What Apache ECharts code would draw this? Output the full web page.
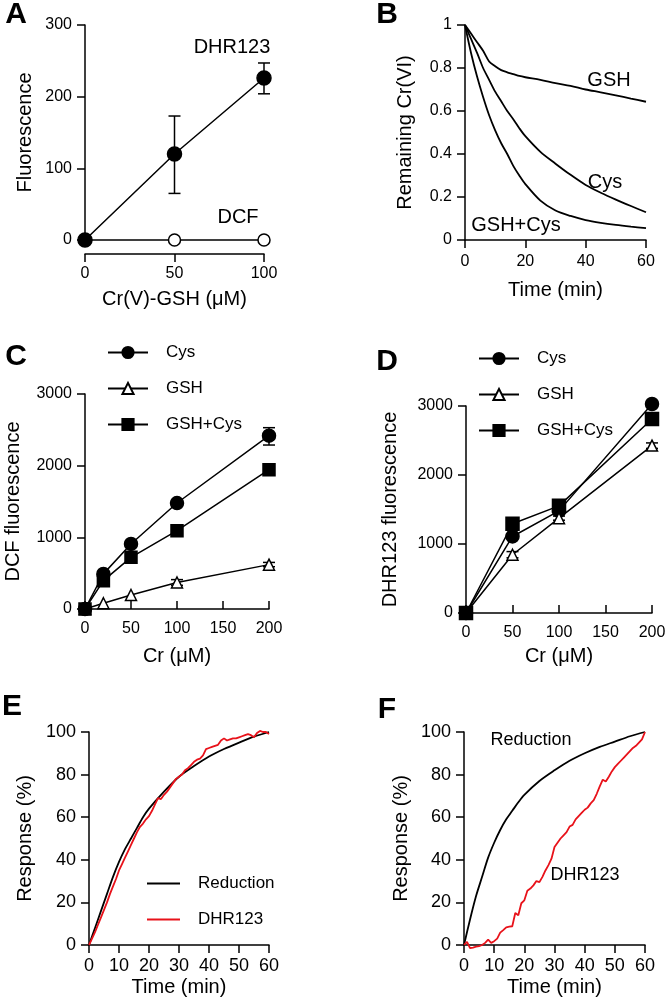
<!DOCTYPE html>
<html>
<head>
<meta charset="utf-8">
<title>Cr panels</title>
<script src="https://cdn.jsdelivr.net/npm/echarts@6/dist/echarts.min.js"></script>
<style>
  html, body { margin: 0; padding: 0; background: #fff; }
  #chart { width: 666px; height: 1008px; }
</style>
</head>
<body>
<div id="chart"></div>
<script>
var FONT = 'Liberation Sans, Arial, sans-serif';

// A: Cr(V)-GSH dose
var aDose = [0, 50, 100];
var aDHR = [0, 120, 226];
var aDHRLo = [0, 65, 204];
var aDHRHi = [0, 173, 247];
var aDCF = [0, 0, 0];

// B: remaining Cr(VI) vs time
var bTime = [0, 2, 4, 6, 8, 10, 12, 14, 16, 18, 20, 25, 30, 35, 40, 45, 50, 55, 60];
var bGSH = [1, 0.96, 0.92, 0.88, 0.83, 0.808, 0.79, 0.78, 0.772, 0.763, 0.757, 0.745, 0.73, 0.717, 0.70, 0.687, 0.673, 0.658, 0.643];
var bCys = [1, 0.935, 0.87, 0.8, 0.745, 0.69, 0.645, 0.6, 0.562, 0.52, 0.483, 0.41, 0.355, 0.303, 0.256, 0.22, 0.188, 0.158, 0.129];
var bBoth = [1, 0.87, 0.76, 0.665, 0.58, 0.51, 0.45, 0.4, 0.345, 0.3, 0.26, 0.183, 0.137, 0.112, 0.093, 0.08, 0.07, 0.062, 0.055];

// C: DCF fluorescence
var cDose = [0, 20, 50, 100, 200];
var cCys = [0, 490, 907, 1479, 2419];
var cGSH = [0, 80, 195, 370, 619];
var cBoth = [0, 395, 721, 1093, 1944];
var cErrDose = [200, 100, 200];
var cErrLo = [2288, 330, 590];
var cErrHi = [2530, 410, 650];

// D: DHR123 fluorescence
var dDose = [0, 50, 100, 200];
var dCys = [0, 1109, 1480, 3029];
var dGSH = [0, 844, 1375, 2426];
var dBoth = [0, 1293, 1553, 2812];
var dErrDose = [50, 100, 200];
var dErrLo = [800, 1345, 2385];
var dErrHi = [890, 1405, 2465];

// E / F: normalized response
var rTime = [0, 2, 4, 6, 8, 10, 12, 14, 16, 18, 20, 25, 30, 35, 40, 45, 50, 55, 60];
var eReduction = [0, 8, 16, 24, 32, 39, 45, 50, 55, 60, 64, 72, 79, 84, 88.5, 92, 95, 97.8, 100];
var fReduction = [0, 12, 23, 32, 41, 48, 54, 59, 63, 67, 70.5, 77, 82, 86.5, 90, 93, 95.5, 98, 100];
var mTime = [0, 1, 2, 3, 4, 5, 6, 7, 8, 9, 10, 11, 12, 13, 14, 15, 16, 17, 18, 19, 20,
  21, 22, 23, 24, 25, 26, 27, 28, 29, 30, 31, 32, 33, 34, 35, 36, 37, 38, 39, 40,
  41, 42, 43, 44, 45, 46, 47, 48, 49, 50, 51, 52, 53, 54, 55, 56, 57, 58, 59, 60];
var eDHR = [0, 3, 6, 9.5, 13, 16.5, 20, 24, 27.5, 31, 35, 38, 41, 44, 47, 50, 53, 55.5, 57, 59, 60.5,
  63, 66, 69, 68.5, 70.5, 72, 74, 76, 78, 79, 80, 82, 83, 84.5, 86, 87, 87.5, 89, 92, 92.5,
  93, 93.5, 94, 96, 97, 96, 96.5, 97, 97, 97.5, 98, 98.5, 99, 98.5, 97.5, 99.5, 100.5, 100, 100, 99];
var fDHR = [0, 1.5, -1.5, -1.2, -0.8, -0.5, 0, 1, 2.5, 1, 1.8, 3, 5.8, 7, 8.3, 8.6, 8.8, 15, 14, 19.6, 21,
  25.5, 26.5, 28, 30, 29.5, 32, 35, 37.5, 40.5, 46, 48, 50, 51.5, 53, 55.6, 56.4, 59, 60.5, 62, 63.5,
  64.5, 66.5, 68, 71, 74.5, 77.6, 76.8, 79, 81.5, 83.5, 85, 86.5, 88, 89.5, 91, 92.5, 93.5, 95, 96.5, 100];

var RED = '#e8121a';

function pairs(xs, ys) {
  return xs.map(function (x, i) { return [x, ys[i]]; });
}

function plain(v) {
  return String(v);
}

function makeX(idx, max, interval, name, gap, opts) {
  opts = opts || {};
  return {
    type: 'value', gridIndex: idx, min: 0, max: max, interval: interval,
    name: name, nameLocation: 'middle', nameGap: gap,
    nameTextStyle: { fontSize: 20, color: '#000', fontFamily: FONT },
    offset: opts.offset || 0,
    axisLine: { show: true, onZero: false, lineStyle: { color: '#000', width: 1.5 } },
    axisTick: { show: true, inside: !!opts.inside, length: 8, lineStyle: { color: '#000', width: 1.5 } },
    axisLabel: { fontSize: opts.font || 16, color: '#000', margin: opts.margin || 12, fontFamily: FONT, formatter: plain },
    splitLine: { show: false }
  };
}

function makeY(idx, max, interval, name, gap, font) {
  return {
    type: 'value', gridIndex: idx, min: 0, max: max, interval: interval,
    name: name, nameLocation: 'middle', nameGap: gap,
    nameTextStyle: { fontSize: 20, color: '#000', fontFamily: FONT },
    axisLine: { show: true, onZero: false, lineStyle: { color: '#000', width: 1.5 } },
    axisTick: { show: true, length: 8, lineStyle: { color: '#000', width: 1.5 } },
    axisLabel: { fontSize: font || 16, color: '#000', margin: 13, fontFamily: FONT, formatter: plain },
    splitLine: { show: false }
  };
}

function markerLine(idx, name, xs, ys, symbol, size, filled) {
  return {
    name: name, type: 'line', xAxisIndex: idx, yAxisIndex: idx,
    data: pairs(xs, ys), clip: false,
    symbol: symbol, symbolSize: size, showSymbol: true,
    lineStyle: { color: '#000', width: 1.5 },
    itemStyle: { color: filled ? '#000' : '#fff', borderColor: '#000', borderWidth: 1.5, opacity: 1 },
    z: 3
  };
}

function curve(idx, name, xs, ys, color, smooth) {
  return {
    name: name, type: 'line', xAxisIndex: idx, yAxisIndex: idx,
    data: pairs(xs, ys), clip: false, smooth: smooth,
    symbol: 'none', showSymbol: false,
    lineStyle: { color: color, width: 1.8 },
    itemStyle: { color: color },
    z: 3
  };
}

function errorBars(idx, xs, lo, hi) {
  return {
    type: 'custom', xAxisIndex: idx, yAxisIndex: idx, z: 2,
    data: xs.map(function (x, i) { return [x, lo[i], hi[i]]; }),
    encode: { x: 0, y: [1, 2] },
    renderItem: function (params, api) {
      var x = api.value(0);
      var p1 = api.coord([x, api.value(1)]);
      var p2 = api.coord([x, api.value(2)]);
      var w = 6;
      var st = { stroke: '#000', lineWidth: 1.5 };
      return {
        type: 'group',
        children: [
          { type: 'line', shape: { x1: p1[0], y1: p1[1], x2: p2[0], y2: p2[1] }, style: st },
          { type: 'line', shape: { x1: p1[0] - w, y1: p1[1], x2: p1[0] + w, y2: p1[1] }, style: st },
          { type: 'line', shape: { x1: p2[0] - w, y1: p2[1], x2: p2[0] + w, y2: p2[1] }, style: st }
        ]
      };
    }
  };
}

function label(text, x, y, size, bold) {
  return {
    type: 'text', z: 10,
    style: {
      text: text, x: x, y: y,
      font: (bold ? 'bold ' : '') + size + 'px ' + FONT,
      fill: '#000',
      align: 'center', verticalAlign: 'middle',
      textAlign: 'center', textVerticalAlign: 'middle'
    }
  };
}

var legendText = { fontSize: 17, color: '#000', fontFamily: FONT, padding: [0, 0, 0, 13] };
// short bar used as a plain line icon in legend E
var lineIcon = 'path://M0,0L33,0L33,2L0,2Z';

var myChart = echarts.init(document.getElementById('chart'), null, { renderer: 'canvas' });

var option = {
  animation: false,
  backgroundColor: '#fff',
  grid: [
    { left: 85, top: 25, width: 179, height: 215, containLabel: false, outerBoundsMode: 'none' },
    { left: 465, top: 25, width: 181, height: 215, containLabel: false, outerBoundsMode: 'none' },
    { left: 85, top: 394, width: 184, height: 215, containLabel: false, outerBoundsMode: 'none' },
    { left: 466, top: 406, width: 186, height: 207, containLabel: false, outerBoundsMode: 'none' },
    { left: 89, top: 732, width: 180, height: 213, containLabel: false, outerBoundsMode: 'none' },
    { left: 464, top: 732, width: 181, height: 213, containLabel: false, outerBoundsMode: 'none' }
  ],
  xAxis: [
    makeX(0, 100, 50, 'Cr(V)-GSH (\u03bcM)', 35, { offset: 14 }),
    makeX(1, 60, 20, 'Time (min)', 40, { margin: 14 }),
    makeX(2, 200, 50, 'Cr (\u03bcM)', 37, { inside: true }),
    makeX(3, 200, 50, 'Cr (\u03bcM)', 33, { inside: true }),
    makeX(4, 60, 10, 'Time (min)', 32, { font: 18 }),
    makeX(5, 60, 10, 'Time (min)', 32, { font: 18 })
  ],
  yAxis: [
    makeY(0, 300, 100, 'Fluorescence', 50),
    makeY(1, 1, 0.2, 'Remaining Cr(VI)', 50),
    makeY(2, 3000, 1000, 'DCF fluorescence', 62),
    makeY(3, 3000, 1000, 'DHR123 fluorescence', 66),
    makeY(4, 100, 20, 'Response (%)', 54, 18),
    makeY(5, 100, 20, 'Response (%)', 53, 18)
  ],
  legend: [
    {
      data: ['Cys', 'GSH', 'GSH+Cys'], orient: 'vertical', left: 107, top: 344, padding: 0,
      itemWidth: 40, itemHeight: 14, itemGap: 19, textStyle: legendText, selectedMode: false
    },
    {
      data: ['Cys', 'GSH', 'GSH+Cys'], orient: 'vertical', left: 478, top: 350, padding: 0,
      itemWidth: 40, itemHeight: 14, itemGap: 19, textStyle: legendText, selectedMode: false
    },
    {
      data: [
        { name: 'Reduction', icon: lineIcon },
        { name: 'DHR123', icon: lineIcon }
      ],
      orient: 'vertical', left: 147, top: 875, padding: 0,
      itemWidth: 33, itemHeight: 2, itemGap: 19, textStyle: legendText, selectedMode: false
    }
  ],
  series: [
    // A
    errorBars(0, aDose, aDHRLo, aDHRHi),
    markerLine(0, 'A DCF', aDose, aDCF, 'circle', 12, false),
    markerLine(0, 'A DHR123', aDose, aDHR, 'circle', 14, true),
    // B
    curve(1, 'B GSH', bTime, bGSH, '#000', 0.3),
    curve(1, 'B Cys', bTime, bCys, '#000', 0.3),
    curve(1, 'B GSH+Cys', bTime, bBoth, '#000', 0.3),
    // C
    errorBars(2, cErrDose, cErrLo, cErrHi),
    markerLine(2, 'Cys', cDose, cCys, 'circle', 13, true),
    markerLine(2, 'GSH', cDose, cGSH, 'triangle', 11, false),
    markerLine(2, 'GSH+Cys', cDose, cBoth, 'rect', 12, true),
    // D
    errorBars(3, dErrDose, dErrLo, dErrHi),
    markerLine(3, 'Cys', dDose, dCys, 'circle', 13, true),
    markerLine(3, 'GSH', dDose, dGSH, 'triangle', 11, false),
    markerLine(3, 'GSH+Cys', dDose, dBoth, 'rect', 13, true),
    // E
    curve(4, 'Reduction', rTime, eReduction, '#000', 0.3),
    curve(4, 'DHR123', mTime, eDHR, RED, false),
    // F
    curve(5, 'Reduction', rTime, fReduction, '#000', 0.3),
    curve(5, 'DHR123', mTime, fDHR, RED, false)
  ],
  graphic: [
    label('A', 16, 15, 30, true),
    label('B', 387, 15, 30, true),
    label('C', 16, 357, 30, true),
    label('D', 387, 362, 30, true),
    label('E', 12, 707, 30, true),
    label('F', 387, 710, 30, true),
    label('DHR123', 232, 47, 20),
    label('DCF', 238, 217, 20),
    label('GSH', 609, 80, 20),
    label('Cys', 605, 182, 20),
    label('GSH+Cys', 516, 225, 20),
    label('Reduction', 531, 740, 18),
    label('DHR123', 585, 875, 18)
  ]
};

myChart.setOption(option);
</script>
</body>
</html>
